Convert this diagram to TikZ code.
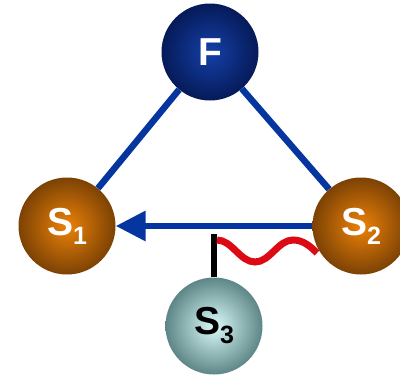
\documentclass[tikz,border=0pt]{standalone}
\usepackage{fontspec}
\setmainfont{Liberation Sans}
\usetikzlibrary{arrows.meta}
\definecolor{linkblue}{HTML}{0536A0}
\definecolor{wavered}{HTML}{DC0A14}
\definecolor{fin}{HTML}{1440A8}
\definecolor{fout}{HTML}{061A58}
\definecolor{sin}{HTML}{EC8208}
\definecolor{sout}{HTML}{7C4204}
\definecolor{tin}{HTML}{DAFAFA}
\definecolor{tout}{HTML}{5E8686}
\newcommand{\subidx}[1]{\raisebox{-9pt}{\fontsize{25}{28}\selectfont #1}}

\begin{document}
\begin{tikzpicture}[x=1pt, y=-1pt, >=Latex,
  ball/.style={circle,minimum size=97pt,inner sep=0pt,font=\fontsize{39}{44}\selectfont\bfseries},
  link/.style={linkblue,line width=6.5pt}]
  \useasboundingbox (0,0) rectangle (400,375);
  \clip (0,0) rectangle (400,375);
  \node[ball,inner color=fin,outer color=fout,text=white] (F) at (210,52) {F};
  \node[ball,inner color=sin,outer color=sout,text=white] (S1) at (67,226) {S\subidx{1}};
  \node[ball,inner color=sin,outer color=sout,text=white] (S2) at (361,226) {S\subidx{2}};
  \node[ball,inner color=tin,outer color=tout,text=black] (S3) at (214,326) {S\subidx{3}};
  \draw[link] (F) -- (S1); \draw[link] (F) -- (S2);
  \draw[link,-{Triangle[length=30pt,width=29pt]}] (S2) -- (S1);
  \coordinate (j) at (214,234);
  \draw[line width=6pt] (j) -- (S3);
  \coordinate (w0) at (217,240); \coordinate (w1) at (317,253);
  \draw[wavered,line width=7pt] (w0) .. controls (232,240) and (240,262) .. (255,262)
    .. controls (270,262) and (278,240) .. (293,240) .. controls (303,240) and (310,246) .. (w1);
\end{tikzpicture}
\end{document}
